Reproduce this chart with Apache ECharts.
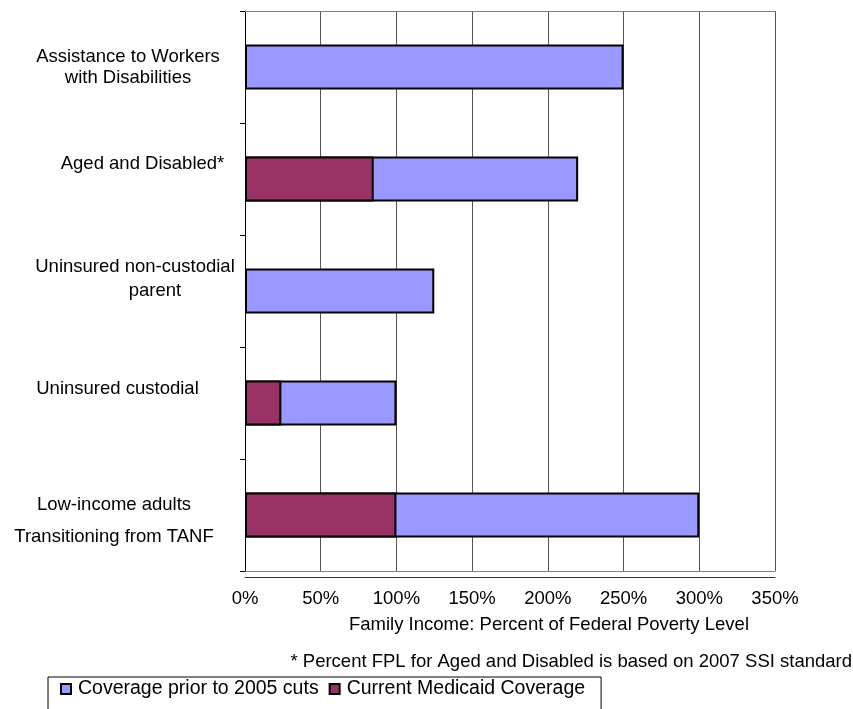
<!DOCTYPE html>
<html>
<head>
<meta charset="utf-8">
<script src="https://cdn.jsdelivr.net/npm/echarts@6/dist/echarts.min.js"></script>
<style>html,body{margin:0;padding:0;background:#fff;}#c{width:853px;height:709px;}</style>
</head>
<body>
<div id="c"></div>
<script>
const categories = [
  'Assistance to Workers\nwith Disabilities',
  'Aged and Disabled*',
  'Uninsured non-custodial\nparent',
  'Uninsured custodial',
  'Low-income adults\nTransitioning from TANF'
];
const priorCoverage = [250, 220, 125, 100, 300];   // Coverage prior to 2005 cuts (% FPL)
const currentCoverage = [0, 85, 0, 24, 100];       // Current Medicaid Coverage (% FPL)
const xTicks = [0, 50, 100, 150, 200, 250, 300, 350];

const FONT = 'Arial, "Liberation Sans", sans-serif';
const FS = 18.5;
const labelStyles = [
  {padding: [0, 34, 0, 0], lineHeight: 21},
  {padding: [0, 5, 0, 0], lineHeight: 30},
  {padding: [0, 20, 0, 0], lineHeight: 24},
  {padding: [0, 55, 0, 0], lineHeight: 28},
  {padding: [0, 62, 0, 0], lineHeight: 32}
];
const tok = (lh, extra) => Object.assign({fontSize: FS, fontFamily: FONT, color: '#000', lineHeight: lh}, extra || {});

function labelFormatter(value, index) {
  const lines = value.split('\n');
  if (index === 1 || index === 3) return lines[0] + '\n';
  if (index === 2) return '{n1|' + lines[0] + '}\n{n2|' + lines[1] + '}\n';
  if (index === 4) return '{l1|' + lines[0] + '}\n{l2|' + lines[1] + '}';
  return value;
}

const chart = echarts.init(document.getElementById('c'));
chart.setOption({
  animation: false,
  textStyle: {fontFamily: FONT, color: '#000'},
  grid: {left: 245, right: 78, top: 11, bottom: 138, containLabel: false, outerBoundsMode: 'none'},
  legend: {
    left: 48, top: 677,
    padding: [2, 16, 40, 12],
    borderColor: '#000', borderWidth: 1,
    itemWidth: 10, itemHeight: 10, itemGap: 10,
    textStyle: {fontFamily: FONT, fontSize: 19.5, color: '#000', padding: [0, 0, 0, 2]},
    data: [
      {name: 'Coverage prior to 2005 cuts', icon: 'rect'},
      {name: 'Current Medicaid Coverage', icon: 'rect'}
    ]
  },
  title: {
    text: '* Percent FPL for Aged and Disabled is based on 2007 SSI standard',
    right: 1, top: 652,
    padding: 0,
    textStyle: {fontFamily: FONT, fontSize: FS, fontWeight: 'normal', color: '#000'}
  },
  xAxis: [{
    type: 'value', min: 0, max: 350, interval: 50,
    position: 'bottom',
    axisLine: {show: true, lineStyle: {color: '#808080', width: 1}},
    axisTick: {show: false},
    splitLine: {show: true, lineStyle: {color: '#555', width: 1}},
    axisLabel: {formatter: v => xTicks.includes(v) ? v + '%' : '', fontSize: FS, color: '#000', margin: 18, fontFamily: FONT},
    name: 'Family Income: Percent of Federal Poverty Level',
    nameLocation: 'middle', nameGap: 44,
    nameTextStyle: {fontSize: FS, color: '#000', fontFamily: FONT, padding: [0, 0, 0, 78]}
  }, {
    type: 'value', min: 0, max: 350, interval: 50,
    position: 'top',
    axisLine: {show: true, lineStyle: {color: '#808080', width: 1}},
    axisTick: {show: false}, axisLabel: {show: false}, splitLine: {show: false}
  }, {
    type: 'value', min: 0, max: 350, interval: 50,
    position: 'bottom', offset: 6,
    axisLine: {show: true, lineStyle: {color: '#333', width: 1}},
    axisTick: {show: false}, axisLabel: {show: false}, splitLine: {show: false}
  }],
  yAxis: {
    type: 'category', inverse: true,
    data: categories.map((c, i) => ({value: c, textStyle: Object.assign({align: 'center', fontSize: FS, color: '#000', fontFamily: FONT}, labelStyles[i])})),
    axisLine: {show: true, lineStyle: {color: '#000', width: 1}},
    axisTick: {show: true, length: 5, lineStyle: {color: '#000'}},
    axisLabel: {
      fontSize: FS, color: '#000', align: 'center', margin: 100, lineHeight: 21, fontFamily: FONT,
      formatter: labelFormatter,
      rich: {
        n1: tok(24),
        n2: tok(24, {padding: [0, 0, 0, 40]}),
        l1: tok(44),
        l2: tok(20)
      }
    },
    splitLine: {show: false}
  },
  series: [{
    name: 'Coverage prior to 2005 cuts',
    type: 'bar', xAxisIndex: 0,
    data: priorCoverage,
    barCategoryGap: '60%',
    barGap: '-100%',
    itemStyle: {color: '#9999FF', borderColor: '#000', borderWidth: 2}
  }, {
    name: 'Current Medicaid Coverage',
    type: 'bar', xAxisIndex: 0,
    data: currentCoverage.map(v => v === 0 ? null : v),
    barCategoryGap: '60%',
    barGap: '-100%',
    itemStyle: {color: '#993366', borderColor: '#000', borderWidth: 2}
  }]
});
</script>
</body>
</html>
